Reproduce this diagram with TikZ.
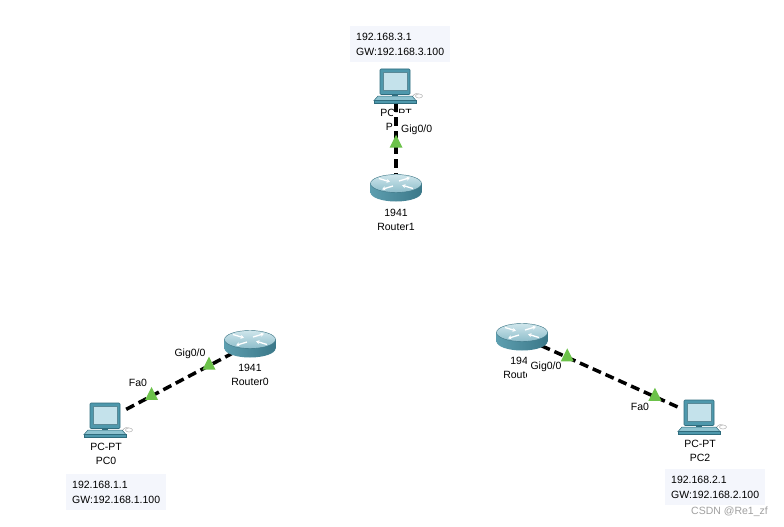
\documentclass[tikz,border=0pt]{standalone}
\usepackage{fontspec}
\setmainfont{Liberation Sans}
\usetikzlibrary{shapes.geometric,arrows.meta,calc}
\definecolor{boxbg}{HTML}{F4F6FC}
\definecolor{lightgreen}{HTML}{6CC24A}
\definecolor{pcbody}{HTML}{4E98AC}
\definecolor{pcdark}{HTML}{2F6C7D}
\definecolor{pcscreen}{HTML}{C4E2EB}
\definecolor{pcbase}{HTML}{8EC3D0}
\definecolor{rtleft}{HTML}{5D9EAF}
\definecolor{rtmid}{HTML}{82BDCB}
\definecolor{rtright}{HTML}{3B7889}
\definecolor{rttop}{HTML}{CFE6EC}
\definecolor{rttopb}{HTML}{8DBDCA}
\definecolor{rtedge}{HTML}{3A7484}
\definecolor{wmgray}{HTML}{A0A0A0}
\tikzset{
  lbl/.style={font=\fontsize{10.5}{12}\selectfont, inner sep=1pt},
  infobox/.style={anchor=north west, fill=boxbg, align=left, inner xsep=6pt, inner ysep=6.5pt,
    text width=88pt, font=\fontsize{10.5}{15}\selectfont},
  pcnode/.style={rectangle, minimum width=40pt, minimum height=34pt, inner sep=0pt},
  rtnode/.style={ellipse, minimum width=51pt, minimum height=27pt, inner sep=0pt},
  link/.style={black, line width=3.5pt, dash pattern=on 9pt off 5pt},
  light/.style={isosceles triangle, isosceles triangle stretches, shape border rotate=90,
    minimum width=13pt, minimum height=13pt, inner sep=0pt, fill=lightgreen},
  pcicon/.pic={
    \draw[gray!60, line width=0.6pt] (16,11) .. controls (19,7) and (21,7) .. (23,8);
    \filldraw[fill=white, draw=gray!60, line width=0.5pt] (23,10) ellipse (3.5 and 2);
    \filldraw[fill=pcbase, draw=pcdark, line width=0.5pt] (-18,10) -- (16,10) -- (20,14.5) -- (-22,14.5) -- cycle;
    \filldraw[fill=pcbody, draw=pcdark, line width=0.5pt] (-22,14.5) rectangle (20,17);
    \fill[pcdark] (-4,8) rectangle (2,10);
    \filldraw[fill=pcbody, draw=pcdark, line width=0.6pt, rounded corners=1pt] (-16,-17) rectangle (14,8.5);
    \filldraw[fill=pcscreen, draw=pcdark!80, line width=0.5pt] (-13,-14) rectangle (11,4);
  },
  rticon/.pic={
    \shade[left color=rtleft, middle color=rtmid, right color=rtright] (0,4.5) ellipse (25.5 and 9);
    \shade[left color=rtleft, middle color=rtmid, right color=rtright] (-25.5,-4.5) rectangle (25.5,4.5);
    \shade[top color=rttop, bottom color=rttopb] (0,-4.5) ellipse (25.5 and 9);
    \draw[rtedge, line width=0.4pt] (0,-4.5) ellipse (25.5 and 9);
    \begin{scope}[white, line width=1.3pt, -{Stealth[length=3.5pt,width=4pt]}]
      \draw (-17,-9.5) -- (-6,-6.2);
      \draw (17,0.5) -- (6,-2.8);
      \draw (3,-7) -- (14,-10.3);
      \draw (-3,-2) -- (-14,1.3);
    \end{scope}
  }
}
\begin{document}
\begin{tikzpicture}[x=1pt,y=-1pt]
\useasboundingbox[fill=white] (0,0) rectangle (784,527);

% device anchors
\node[pcnode] (pc1) at (396,86) {};
\node[rtnode] (r1) at (396,188) {};
\node[pcnode] (pc0) at (106,420) {};
\node[rtnode] (r0) at (250,344) {};
\node[pcnode] (pc2) at (700,417) {};
\node[rtnode] (r2) at (522,337) {};

% info boxes
\node[infobox] (b1) at (350,26) {192.168.3.1\\GW:192.168.3.100};
\node[infobox] (b0) at (66,474) {192.168.1.1\\GW:192.168.1.100};
\node[infobox] (b2) at (665,469) {192.168.2.1\\GW:192.168.2.100};

% device labels
\node[lbl] (pc1t) at ($(pc1)+(0,27)$) {PC-PT};
\node[lbl] (pc1n) at ($(pc1)+(0,41)$) {PC1};
\node[lbl] (pc0t) at ($(pc0)+(0,27)$) {PC-PT};
\node[lbl] (pc0n) at ($(pc0)+(0,41)$) {PC0};
\node[lbl] (pc2t) at ($(pc2)+(0,27)$) {PC-PT};
\node[lbl] (pc2n) at ($(pc2)+(0,41)$) {PC2};
\node[lbl] (r1t) at ($(r1)+(0,24.5)$) {1941};
\node[lbl] (r1n) at ($(r1)+(0,39)$) {Router1};
\node[lbl] (r0t) at ($(r0)+(0,24)$) {1941};
\node[lbl] (r0n) at ($(r0)+(0,38)$) {Router0};
\node[lbl] (r2t) at ($(r2)+(0,24)$) {1941};
\node[lbl] (r2n) at ($(r2)+(0,37.5)$) {Router2};

% port label backgrounds (covering)
\fill[white] (393,113) rectangle (437,137);
\fill[white] (526.5,354) rectangle (566,380);

% links with link lights
\draw[link] (pc1) -- node[light, pos=0.57] (l1) {} (r1);
\draw[link] (pc0) -- node[light, pos=0.24] (l0a) {} node[light, pos=0.785] (l0b) {} (r0);
\draw[link] (r2) -- node[light, pos=0.185] (l2a) {} node[light, pos=0.82] (l2b) {} (pc2);

% port labels
\node[lbl, anchor=west] (p1) at (400,130) {Gig0/0};
\node[lbl] (p0g) at (190,354) {Gig0/0};
\node[lbl] (p0f) at (138,383) {Fa0};
\node[lbl] (p2g) at (546,367) {Gig0/0};
\node[lbl] (p2f) at (640,407) {Fa0};

% icons
\pic at (pc1) {pcicon};
\pic at (pc0) {pcicon};
\pic at (pc2) {pcicon};
\pic at (r1) {rticon};
\pic at (r0) {rticon};
\pic at (r2) {rticon};

% watermark
\node[font=\fontsize{10.5}{12}\selectfont, inner sep=0pt, text=wmgray, anchor=east] (wm) at (768,512) {CSDN @Re1\_zf};
\end{tikzpicture}
\end{document}
